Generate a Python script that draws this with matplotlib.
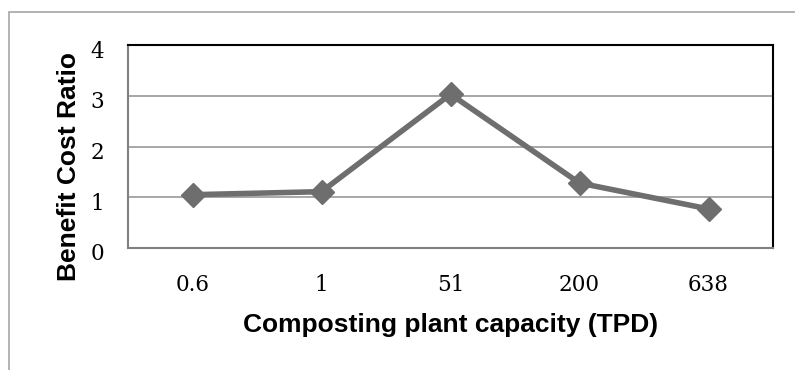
import matplotlib
matplotlib.use("Agg")
import matplotlib.pyplot as plt
from matplotlib.patches import Rectangle
from matplotlib.transforms import ScaledTranslation

categories = ["0.6", "1", "51", "200", "638"]
bcr = [1.05, 1.11, 3.03, 1.28, 0.77]
yticks = [0, 1, 2, 3, 4]

W, H = 795, 370
fig = plt.figure(figsize=(W / 100, H / 100), dpi=100)
fig.patch.set_facecolor("white")

# outer chart border (extends beyond bottom/right of the image)
fig.patches.append(Rectangle((9 / W, -0.05), 1.0, (H - 12) / H + 0.05,
                             transform=fig.transFigure, fill=False,
                             edgecolor="#a6a6a6", linewidth=1.2))

ax = fig.add_axes([128 / W, 1 - 248 / H, (773 - 128) / W, (248 - 45) / H])
x = list(range(len(categories)))
ax.plot(x, bcr, color="#6e6e6e", linewidth=4, marker="D", markersize=12,
        markerfacecolor="#6e6e6e", markeredgecolor="#6e6e6e", zorder=3)

ax.set_xlim(-0.5, len(categories) - 0.5)
ax.set_ylim(0, 4)
ax.set_yticks(yticks)
ax.set_xticks(x)
ax.set_xticklabels(categories)
ax.set_yticklabels([str(v) for v in yticks])
ax.yaxis.grid(True, color="#a0a0a0", linewidth=1.3)
ax.set_axisbelow(True)
ax.tick_params(length=0, labelsize=15.5)
for lab in ax.get_xticklabels() + ax.get_yticklabels():
    lab.set_family("DejaVu Serif")
ax.tick_params(axis="x", pad=19)
ax.tick_params(axis="y", pad=17)

# y tick labels sit slightly below their gridlines in the reference
shift = ScaledTranslation(0, -4 / 100, fig.dpi_scale_trans)
for tick in ax.yaxis.get_major_ticks():
    tick.label1.set_transform(tick.label1.get_transform() + shift)

for side in ["top", "right"]:
    ax.spines[side].set_color("black")
    ax.spines[side].set_linewidth(1.5)
for side in ["left", "bottom"]:
    ax.spines[side].set_color("#808080")
    ax.spines[side].set_linewidth(1.5)

ax.set_xlabel("Composting plant capacity (TPD)", fontsize=19, fontweight="bold",
              family="Liberation Sans", labelpad=12)
ax.set_ylabel("Benefit Cost Ratio", fontsize=19, fontweight="bold",
              family="Liberation Sans")
ax.yaxis.set_label_coords(-0.073, 0.4)

fig.savefig("out.png", dpi=100)
